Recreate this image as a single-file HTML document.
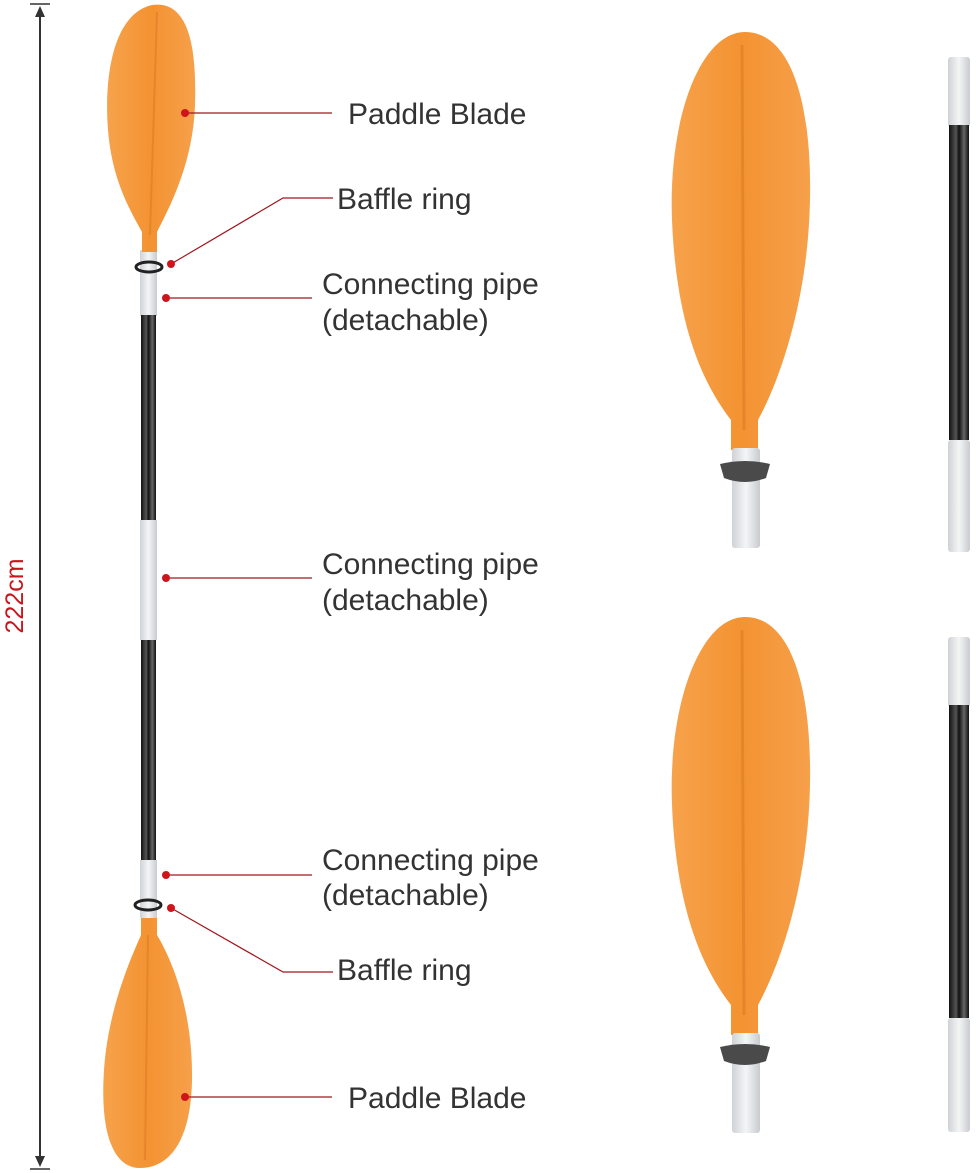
<!DOCTYPE html>
<html><head><meta charset="utf-8"><style>
html,body{margin:0;padding:0;background:#fff;}
svg{display:block;}
text{font-family:"Liberation Sans",sans-serif;fill:#333;}
</style></head><body>
<svg width="976" height="1173" viewBox="0 0 976 1173" xmlns="http://www.w3.org/2000/svg">
<defs>
<linearGradient id="og" x1="0" x2="1" y1="0" y2="0">
<stop offset="0" stop-color="#f7a24c"/><stop offset="0.5" stop-color="#f39332"/><stop offset="1" stop-color="#f6a04a"/>
</linearGradient>
<linearGradient id="wg" x1="0" x2="1"><stop offset="0" stop-color="#cfd2d6"/><stop offset="0.5" stop-color="#f4f5f6"/><stop offset="1" stop-color="#c8cbcf"/></linearGradient>
<linearGradient id="bg" x1="0" x2="1"><stop offset="0" stop-color="#111"/><stop offset="0.35" stop-color="#555"/><stop offset="0.5" stop-color="#111"/><stop offset="0.75" stop-color="#666"/><stop offset="1" stop-color="#111"/></linearGradient>
</defs>

<line x1="30" y1="4" x2="50" y2="4" stroke="#333" stroke-width="1.5"/>
<line x1="30" y1="1169" x2="50" y2="1169" stroke="#333" stroke-width="1.5"/>
<line x1="40" y1="10" x2="40" y2="1163" stroke="#333" stroke-width="2"/>
<polygon points="40,6 35,17 45,17" fill="#333"/>
<polygon points="40,1167 35,1156 45,1156" fill="#333"/>
<text x="0" y="0" transform="translate(23,596) rotate(-90)" text-anchor="middle" font-size="25" style="fill:#c8161d">222cm</text>

<rect x="140" y="250" width="17" height="66" fill="url(#wg)"/>
<rect x="141" y="315" width="15" height="205" fill="url(#bg)"/>
<rect x="140" y="520" width="17" height="120" fill="url(#wg)"/>
<rect x="141" y="640" width="15" height="220" fill="url(#bg)"/>
<rect x="140" y="860" width="17" height="58" fill="url(#wg)"/>
<ellipse cx="149" cy="267" rx="13" ry="5" fill="none" stroke="#222" stroke-width="3"/>
<ellipse cx="148" cy="905" rx="13" ry="5" fill="none" stroke="#222" stroke-width="3"/>

<path d="M142,252 L142,232 C130,210 112,180 108,130 C104,80 112,14 152,5 C188,0 197,45 195,105 C193,165 168,210 157,232 L157,252 Z" fill="url(#og)"/>
<line x1="157" y1="12" x2="150" y2="235" stroke="#e4852a" stroke-width="2"/>
<path d="M141,918 L157,918 L157,935 C172,960 193,1010 192,1080 C191,1140 170,1168 140,1168 C112,1168 100,1130 104,1070 C108,1010 130,960 141,935 Z" fill="url(#og)"/>
<line x1="148" y1="935" x2="145" y2="1160" stroke="#e4852a" stroke-width="2"/>

<path d="M731,450 L731,420 C700,380 676,320 672,220 C668,120 700,32 745,32 C790,32 812,100 810,200 C808,300 780,380 758,420 L758,450 Z" fill="url(#og)"/>
<line x1="742" y1="45" x2="744" y2="430" stroke="#e4852a" stroke-width="3"/>
<rect x="732" y="448" width="28" height="100" rx="3" fill="url(#wg)"/>
<path d="M720,464 Q745,458 770,464 L766,478 Q745,486 724,478 Z" fill="#4a4a4a"/>

<path d="M731,1035 L731,1005 C700,965 676,905 672,805 C668,705 700,617 745,617 C790,617 812,685 810,785 C808,885 780,965 758,1005 L758,1035 Z" fill="url(#og)"/>
<line x1="742" y1="630" x2="744" y2="1015" stroke="#e4852a" stroke-width="3"/>
<rect x="732" y="1033" width="28" height="100" rx="3" fill="url(#wg)"/>
<path d="M720,1047 Q745,1041 770,1047 L766,1061 Q745,1069 724,1061 Z" fill="#4a4a4a"/>

<rect x="948" y="57" width="22" height="70" rx="3" fill="url(#wg)"/>
<rect x="949" y="125" width="20" height="315" fill="url(#bg)"/>
<rect x="948" y="440" width="22" height="112" rx="3" fill="url(#wg)"/>
<rect x="948" y="637" width="22" height="70" rx="3" fill="url(#wg)"/>
<rect x="949" y="705" width="20" height="313" fill="url(#bg)"/>
<rect x="948" y="1018" width="22" height="114" rx="3" fill="url(#wg)"/>

<g stroke="#a01820" stroke-width="1.2" fill="none">
<line x1="185" y1="113" x2="332" y2="113"/>
<polyline points="171,264 283,198 333,198"/>
<line x1="166" y1="298" x2="312" y2="298"/>
<line x1="166" y1="578" x2="312" y2="578"/>
<line x1="166" y1="875" x2="312" y2="875"/>
<polyline points="171,908 283,972 333,972"/>
<line x1="185" y1="1097" x2="332" y2="1097"/>
</g>
<g fill="#d0141c">
<circle cx="185" cy="113" r="4"/><circle cx="171" cy="264" r="4"/><circle cx="166" cy="298" r="4"/>
<circle cx="166" cy="578" r="4"/><circle cx="166" cy="875" r="4"/><circle cx="171" cy="908" r="4"/>
<circle cx="185" cy="1097" r="4"/>
</g>
<g font-size="30">
<text x="348" y="124">Paddle Blade</text>
<text x="337" y="209">Baffle ring</text>
<text x="322" y="294">Connecting pipe</text>
<text x="322" y="330">(detachable)</text>
<text x="322" y="574">Connecting pipe</text>
<text x="322" y="610">(detachable)</text>
<text x="322" y="870">Connecting pipe</text>
<text x="322" y="905">(detachable)</text>
<text x="337" y="980">Baffle ring</text>
<text x="348" y="1108">Paddle Blade</text>
</g>
</svg>
</body></html>
